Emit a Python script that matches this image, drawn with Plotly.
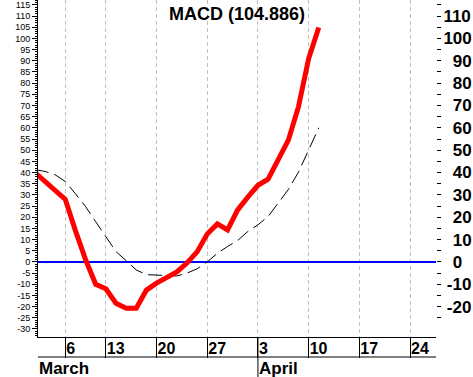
import plotly.graph_objects as go

# trading-day index (x) for each bar of the series
days = list(range(-2, 27))
macd = [40, 36, 32, 28, 14, 1, -10, -12, -18.5, -20.7, -20.7, -12.6, -9.5, -7,
        -4.5, -0.5, 4.5, 12.5, 17, 14.3, 23.3, 29, 34.3, 37, 46, 54.5, 69.5, 91, 104.886]
signal = [41.3, 40.5, 39, 36, 30.5, 24.8, 18, 11.4, 4.6, 0.6, -3.6, -5.7, -6, -6.2,
          -6.3, -5, -3.1, 0, 3.9, 6.9, 9.6, 13.6, 16.6, 20.3, 26.5, 32.4, 40.2, 50, 60]

# week gridlines (trading-day index) and their labels
week_idx = [1, 5, 10, 15, 20, 25, 30, 35]
week_labels = ["6", "13", "20", "27", "3", "10", "17", "24"]
month_labels = ["March", "April"]
month_idx = [None, 20]

left_ticks = list(range(-30, 116, 5))
right_ticks = list(range(-20, 111, 10))

X_RANGE = [-1.69, 37.56]
Y_RANGE = [-33.6, 117.2]

def right_label(v):
    s = str(abs(v))
    if v < 0:
        return "\u2009-" + s
    if v == 0:
        return "\u20070"
    if len(s) == 2:
        return "\u2007" + s
    return s

FONT = "Liberation Sans, Arial"

fig = go.Figure()
fig.add_trace(go.Scatter(x=days, y=signal, mode="lines",
                         line=dict(color="black", width=1, dash="14px,6px"),
                         hoverinfo="skip", showlegend=False))
fig.add_trace(go.Scatter(x=days, y=macd, mode="lines",
                         line=dict(color="#ff0000", width=5),
                         hoverinfo="skip", showlegend=False))
# invisible trace to activate right axis
fig.add_trace(go.Scatter(x=[days[0]], y=[macd[0]], yaxis="y2", mode="lines",
                         line=dict(width=0), hoverinfo="skip", showlegend=False))

fig.update_layout(
    width=473, height=377,
    margin=dict(l=38, r=37, t=0, b=40, autoexpand=False),
    paper_bgcolor="white", plot_bgcolor="white",
    showlegend=False,
    xaxis=dict(range=X_RANGE, tickmode="array", tickvals=week_idx, ticktext=week_labels,
               automargin=False,
               showgrid=True, gridcolor="#c0c0c0", griddash="4px,3px", gridwidth=1,
               ticks="outside", ticklen=20, tickcolor="black", tickwidth=1,
               ticklabelposition="outside right", ticklabelstandoff=-3,
               tickfont=dict(family=FONT, size=16, color="black", weight="bold"),
               showline=True, linecolor="black", linewidth=1, zeroline=False, fixedrange=True),
    yaxis=dict(range=Y_RANGE, tickmode="array", tickvals=left_ticks,
               ticktext=[str(v) for v in left_ticks], automargin=False,
               ticks="outside", ticklen=5, tickcolor="black", tickwidth=1,
               minor=dict(dtick=1, ticks="outside", ticklen=2, tickcolor="black", showgrid=False),
               tickfont=dict(family=FONT, size=9, color="black"),
               showgrid=False, showline=True, linecolor="black", linewidth=1,
               zeroline=True, zerolinecolor="#0000ff", zerolinewidth=2, fixedrange=True),
    yaxis2=dict(range=Y_RANGE, overlaying="y", side="right", tickmode="array",
                tickvals=right_ticks, ticktext=[right_label(v) for v in right_ticks],
                automargin=False, ticklabelstandoff=-1,
                ticks="outside", ticklen=4, tickcolor="black", tickwidth=1,
                minor=dict(dtick=10, tick0=5, ticks="outside", ticklen=4, tickcolor="black", showgrid=False),
                tickfont=dict(family=FONT, size=17, color="black", weight="bold"),
                showgrid=False, showline=False, zeroline=False, fixedrange=True),
)

fig.add_annotation(text="MACD (104.886)", xref="paper", yref="paper", x=0.5, y=1,
                   xanchor="center", yanchor="top", yshift=-2, showarrow=False,
                   font=dict(family=FONT, size=18, color="black", weight="bold"))

# lower frame of the date scale
fig.add_shape(type="line", xref="paper", yref="paper", x0=0, x1=1, y0=-20/337, y1=-20/337,
              line=dict(color="black", width=1))
fig.add_shape(type="line", xref="x", yref="paper", x0=month_idx[1], x1=month_idx[1],
              y0=0, y1=-40/337, line=dict(color="black", width=1))

fig.add_annotation(text=month_labels[0], xref="paper", yref="paper", x=0, y=-21/337,
                   xanchor="left", yanchor="top", showarrow=False, xshift=0, yshift=0,
                   borderpad=0,
                   font=dict(family=FONT, size=17, color="black", weight="bold"))
fig.add_annotation(text=month_labels[1], xref="x", yref="paper", x=month_idx[1], y=-21/337,
                   xanchor="left", yanchor="top", showarrow=False, xshift=0, yshift=0,
                   borderpad=0,
                   font=dict(family=FONT, size=17, color="black", weight="bold"))

fig.write_html("out.html", config=dict(displayModeBar=False, staticPlot=True),
               post_script="document.body.style.margin='0';document.body.style.overflow='hidden';")
